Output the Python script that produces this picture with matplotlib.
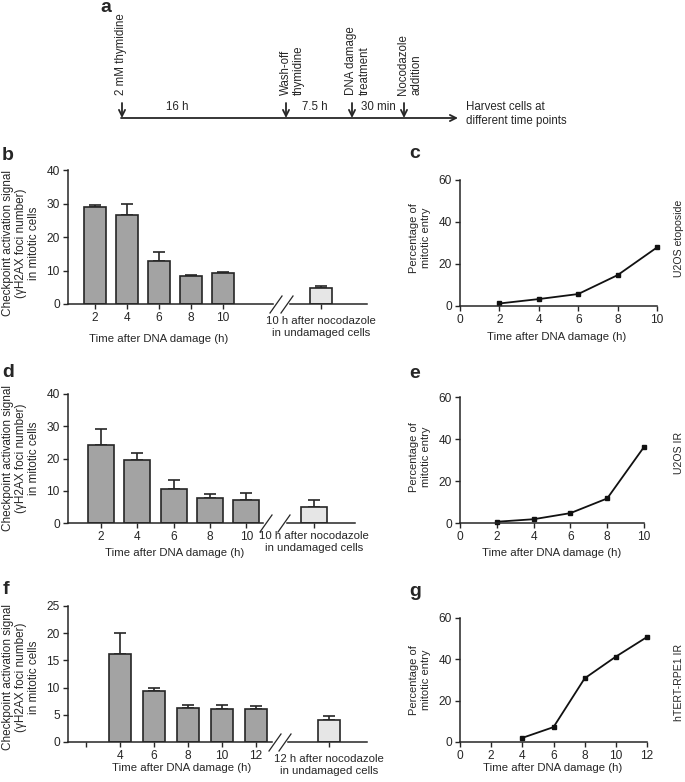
import numpy as np
import matplotlib
matplotlib.use("Agg")
import matplotlib.pyplot as plt
from matplotlib.lines import Line2D

plt.rcParams['font.family'] = ['Liberation Sans', 'DejaVu Sans']
plt.rcParams['font.size'] = 8.2

# ---- data ----
# panel a timeline
events = ["2 mM thymidine", "Wash-off\nthymidine", "DNA damage\ntreatment", "Nocodazole\naddition"]
intervals = ["16 h", "7.5 h", "30 min"]
harvest = "Harvest cells at\ndifferent time points"

# bar panels: mean and upper error (SEM)
b_labels = ["2", "4", "6", "8", "10"]
b_vals = [29.0, 26.7, 12.8, 8.4, 9.2]
b_errs = [0.6, 3.1, 2.7, 0.2, 0.3]
b_ctrl_label = "10 h after nocodazole\nin undamaged cells"
b_ctrl_val, b_ctrl_err = 4.9, 0.5

d_labels = ["2", "4", "6", "8", "10"]
d_vals = [24.3, 19.5, 10.5, 7.9, 7.0]
d_errs = [5.0, 2.2, 2.9, 1.0, 2.2]
d_ctrl_label = "10 h after nocodazole\nin undamaged cells"
d_ctrl_val, d_ctrl_err = 4.9, 2.2

f_labels = ["", "4", "6", "8", "10", "12"]
f_vals = [16.1, 9.4, 6.2, 6.0, 6.0]
f_errs = [3.9, 0.6, 0.6, 0.8, 0.7]
f_ctrl_label = "12 h after nocodazole\nin undamaged cells"
f_ctrl_val, f_ctrl_err = 4.0, 0.8

# line panels: percentage of mitotic entry
c_x = [2, 4, 6, 8, 10]
c_y = [1.2, 3.3, 5.7, 14.7, 27.9]
e_x = [2, 4, 6, 8, 10]
e_y = [0.6, 1.8, 4.7, 11.7, 36.2]
g_x = [4, 6, 8, 10, 12]
g_y = [2.0, 7.2, 30.8, 41.3, 50.8]

ylab_bar = "Checkpoint activation signal\n(\u03b3H2AX foci number)\nin mitotic cells"
ylab_line = "Percentage of\nmitotic entry"
xlab = "Time after DNA damage (h)"

BAR = "#a3a3a3"
CTRL = "#e6e6e6"
INK = "#262626"
TICK_FS = 8.6

W, H = 685, 782
fig = plt.figure(figsize=(W / 100, H / 100), dpi=100)


def px_axes(x0, x1, ytop, ybot):
    return fig.add_axes([x0 / W, 1 - ybot / H, (x1 - x0) / W, (ybot - ytop) / H])


def fig_text(x, y, s, **kw):
    fig.text(x / W, 1 - y / H, s, color=INK, **kw)


def style(ax):
    for s in ["top", "right"]:
        ax.spines[s].set_visible(False)
    for s in ["left", "bottom"]:
        ax.spines[s].set_color(INK)
        ax.spines[s].set_linewidth(1.1)
    ax.tick_params(length=3.5, width=1.0, color=INK, labelcolor=INK, pad=2.5,
                   labelsize=TICK_FS)


def bar_panel(lx0, lx1, first, step, rx0, rx1, rc, ytop, ybot, yticks,
              labels, vals, errs, ctrl_label, ctrl_val, ctrl_err, bw, ctrl_pad):
    axl = px_axes(lx0, lx1, ytop, ybot)
    pos = np.arange(len(labels))
    bpos = pos[len(labels) - len(vals):]
    axl.errorbar(bpos, vals, yerr=[np.zeros(len(errs)), errs], fmt="none",
                 ecolor=INK, elinewidth=1.2, capsize=4.5, capthick=1.2, zorder=1)
    axl.bar(bpos, vals, width=bw / step, color=BAR, edgecolor=INK, lw=1.2, zorder=2)
    axl.set_xlim((lx0 - first) / step, (lx1 - first) / step)
    axl.set_ylim(yticks[0], yticks[-1])
    axl.set_yticks(yticks)
    axl.set_xticks(pos, labels)
    style(axl)

    axr = px_axes(rx0, rx1, ytop, ybot)
    axr.errorbar([0], [ctrl_val], yerr=[[0], [ctrl_err]], fmt="none",
                 ecolor=INK, elinewidth=1.2, capsize=4.5, capthick=1.2, zorder=1)
    axr.bar([0], [ctrl_val], width=bw / step, color=CTRL, edgecolor=INK, lw=1.2, zorder=2)
    axr.set_xlim((rx0 - rc) / step, (rx1 - rc) / step)
    axr.set_ylim(yticks[0], yticks[-1])
    axr.set_xticks([0], [ctrl_label])
    style(axr)
    axr.spines["left"].set_visible(False)
    axr.set_yticks([])
    axr.tick_params(axis="x", pad=ctrl_pad, labelsize=8.2)
    for t in axr.get_xticklabels():
        t.set_linespacing(1.15)

    # break marks
    for cx in (lx1 + 3, rx0 - 3):
        fig.add_artist(Line2D([(cx - 6) / W, (cx + 6) / W],
                              [1 - (ybot + 9) / H, 1 - (ybot - 8) / H],
                              color=INK, lw=0.9, transform=fig.transFigure))
    return axl, axr


def line_panel(x0, x1, ytop, ybot, xs, ys, xmax):
    ax = px_axes(x0, x1, ytop, ybot)
    ax.plot(xs, ys, color="#111111", lw=1.3, marker="s", ms=3.2, clip_on=False)
    ax.set_xlim(0, xmax)
    ax.set_ylim(0, 60)
    ax.set_xticks(np.arange(0, xmax + 1, 2))
    ax.set_yticks([0, 20, 40, 60])
    style(ax)
    return ax


# ---- panel a: timeline ----
axa = px_axes(0, W, 0, 140)
axa.set_xlim(0, W)
axa.set_ylim(140, 0)
axa.axis("off")
ev_x = [122, 286, 352, 404]
iv_x = [177, 315, 378]
line_y = 118
axa.annotate("", xy=(458, line_y), xytext=(ev_x[0] - 1, line_y),
             arrowprops=dict(arrowstyle="->", lw=1.3, color=INK, shrinkA=0, shrinkB=0,
                             mutation_scale=11))
for x, lab in zip(ev_x, events):
    axa.annotate("", xy=(x, line_y), xytext=(x, 103),
                 arrowprops=dict(arrowstyle="->", lw=1.3, color=INK, shrinkA=0, shrinkB=0,
                                 mutation_scale=11))
    axa.text(x - 6.5, 95, lab, rotation=90, ha="left", va="bottom", multialignment="left",
             fontsize=8.3, color=INK, linespacing=1.1)
for x, lab in zip(iv_x, intervals):
    axa.text(x, 107, lab, ha="center", va="center", fontsize=8.3, color=INK)
axa.text(466, 114, harvest, ha="left", va="center", fontsize=8.3, color=INK, linespacing=1.3)

# ---- bar panels ----
bar_panel(68, 273, 95, 32, 290, 367, 321, 170, 304, [0, 10, 20, 30, 40],
          b_labels, b_vals, b_errs, b_ctrl_label, b_ctrl_val, b_ctrl_err, 22, 5.5)
bar_panel(68, 263, 101, 36.3, 287, 355, 314, 394, 523, [0, 10, 20, 30, 40],
          d_labels, d_vals, d_errs, d_ctrl_label, d_ctrl_val, d_ctrl_err, 26, 2.5)
bar_panel(68, 272, 86, 34, 288, 367, 329, 606, 742, [0, 5, 10, 15, 20, 25],
          f_labels, f_vals, f_errs, f_ctrl_label, f_ctrl_val, f_ctrl_err, 22, 5.5)

fig_text(159, 339, xlab, ha="center", va="center")
fig_text(175, 553, xlab, ha="center", va="center")
fig_text(182, 768, xlab, ha="center", va="center")
for yc in (243, 458, 677):
    fig_text(21, yc, ylab_bar, ha="center", va="center", rotation=90, linespacing=1.15,
             fontsize=8.5)

# ---- line panels ----
line_panel(460, 657, 180, 306, c_x, c_y, 10)
line_panel(460, 644, 397, 523, e_x, e_y, 10)
line_panel(460, 647, 618, 742, g_x, g_y, 12)

fig_text(557, 337, xlab, ha="center", va="center")
fig_text(552, 553, xlab, ha="center", va="center")
fig_text(553, 768, xlab, ha="center", va="center")
for yc in (238, 457, 680):
    fig_text(420, yc, ylab_line, ha="center", va="center", rotation=90, linespacing=1.15,
             fontsize=8)

fig_text(679, 238, "U2OS etoposide", ha="center", va="center", rotation=90, fontsize=7.6)
fig_text(679, 453, "U2OS IR", ha="center", va="center", rotation=90, fontsize=7.6)
fig_text(679, 682, "hTERT-RPE1 IR", ha="center", va="center", rotation=90, fontsize=7.6)

# ---- panel letters ----
for x, y, s in [(106, 8, "a"), (8, 155, "b"), (415, 154, "c"), (8, 373, "d"),
                (415, 374, "e"), (6, 590, "f"), (415, 591, "g")]:
    fig_text(x, y, s, ha="center", va="center", fontsize=14, fontweight="bold")

fig.savefig("out.png", dpi=100)
